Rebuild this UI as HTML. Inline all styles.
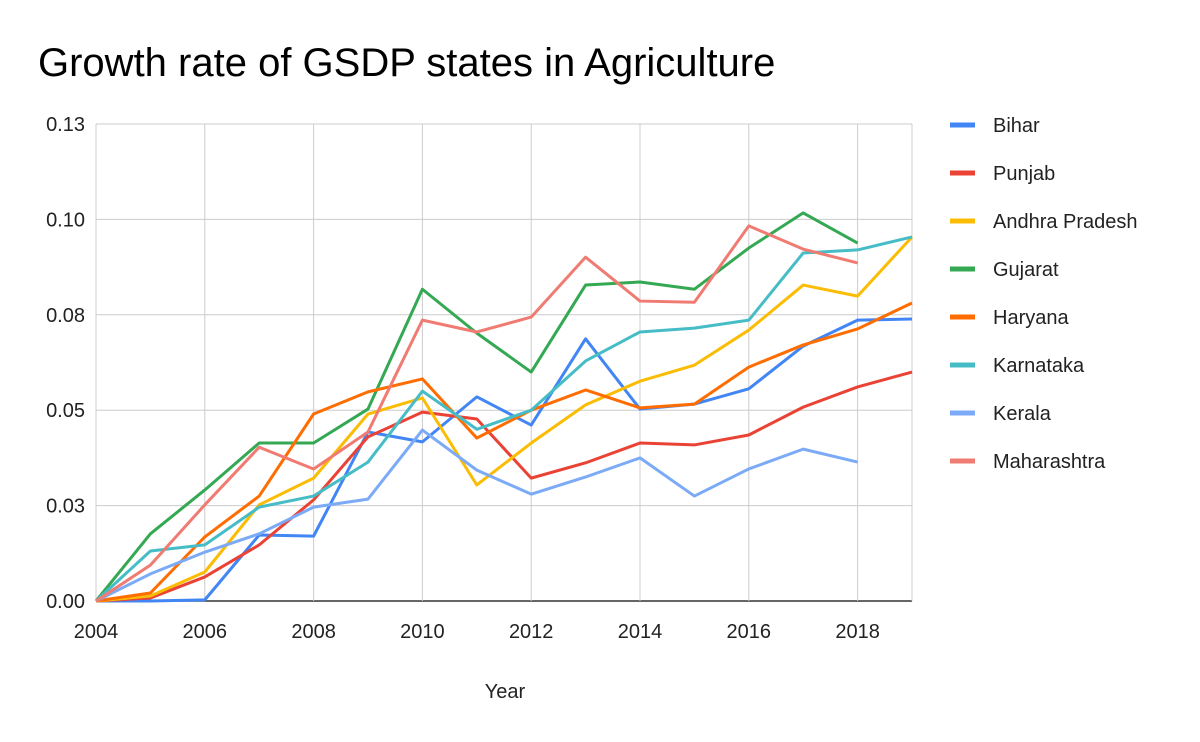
<!DOCTYPE html>
<html><head><meta charset="utf-8"><style>
body{margin:0;background:#fff;}
svg{display:block;font-family:"Liberation Sans",Arial,sans-serif;}
</style></head><body>
<svg id="chart" width="1200" height="742">
<text x="38" y="76" font-size="40" fill="#000">Growth rate of GSDP states in Agriculture</text>
<g id="grid"></g><g id="lines"></g><g id="legend"></g>
<text x="505" y="698" font-size="20" fill="#222" text-anchor="middle">Year</text>
</svg>
<script>
const years=[2004,2005,2006,2007,2008,2009,2010,2011,2012,2013,2014,2015,2016,2017,2018,2019];
const xTicks=[2004,2006,2008,2010,2012,2014,2016,2018];
const yTickVals=[0,0.025,0.05,0.075,0.1,0.125];
const yTickLabels=["0.00","0.03","0.05","0.08","0.10","0.13"];
const seriesNames=["Bihar","Punjab","Andhra Pradesh","Gujarat","Haryana","Karnataka","Kerala","Maharashtra"];
const seriesColors=["#4285f4","#ea4335","#fbbc04","#34a853","#ff6d01","#46bdc6","#7baaf7","#f07b72"];
const bihar=[0,0,0.0003,0.0173,0.017,0.0443,0.0417,0.0535,0.0461,0.0687,0.0503,0.0516,0.0556,0.0668,0.0736,0.0739];
const punjab=[0,0.0008,0.0063,0.0147,0.0265,0.043,0.0495,0.0477,0.0322,0.0362,0.0414,0.0409,0.0435,0.0508,0.0561,0.06];
const andhra=[0,0.0013,0.0076,0.0252,0.0322,0.049,0.0532,0.0304,0.0414,0.0514,0.0576,0.0618,0.071,0.0828,0.0799,0.0954];
const gujarat=[0,0.0176,0.0291,0.0414,0.0414,0.0503,0.0817,0.0702,0.06,0.0828,0.0836,0.0817,0.0925,0.1017,0.0938];
const haryana=[0,0.0021,0.0168,0.0275,0.049,0.0548,0.0582,0.0427,0.05,0.0553,0.0506,0.0516,0.0613,0.0671,0.0713,0.0781];
const karnataka=[0,0.0131,0.0147,0.0246,0.0275,0.0364,0.055,0.045,0.05,0.0629,0.0705,0.0715,0.0736,0.0912,0.092,0.0954];
const kerala=[0,0.0071,0.0128,0.0176,0.0246,0.0267,0.0448,0.0343,0.028,0.0325,0.0375,0.0275,0.0346,0.0398,0.0364];
const maharashtra=[0,0.0094,0.0252,0.0403,0.0346,0.0443,0.0736,0.0705,0.0744,0.0901,0.0786,0.0783,0.0983,0.0922,0.0886];
const seriesData=[bihar,punjab,andhra,gujarat,haryana,karnataka,kerala,maharashtra];

const NS="http://www.w3.org/2000/svg";
const X0=96,X1=912,Y0=601,Y1=124;
const xS=v=>X0+(v-2004)/(2019-2004)*(X1-X0);
const yS=v=>Y0-(v/0.125)*(Y0-Y1);
function mk(tag,attrs,parent){const e=document.createElementNS(NS,tag);for(const k in attrs)e.setAttribute(k,attrs[k]);parent.appendChild(e);return e;}
const grid=document.getElementById('grid');
yTickVals.forEach((v,i)=>{
 const l=mk('line',{x1:X0,x2:X1,y1:yS(v),y2:yS(v),stroke:i===0?'#333':'#ccc','stroke-width':i===0?1.5:1},grid);
 
 
 const t=mk('text',{x:85,y:yS(v)+7,'font-size':20,'text-anchor':'end',fill:'#222'},grid);
 t.textContent=yTickLabels[i];
 
 
});
xTicks.forEach(v=>{
 const l=mk('line',{x1:xS(v),x2:xS(v),y1:Y1,y2:Y0,stroke:'#ccc','stroke-width':1},grid);
 
 
 const t=mk('text',{x:xS(v),y:638,'font-size':20,'text-anchor':'middle',fill:'#222'},grid);
 t.textContent=v;
 
 
});
const ll=mk('line',{x1:X1,x2:X1,y1:Y1,y2:Y0,stroke:'#ccc','stroke-width':1},grid);


const lines=document.getElementById('lines'),legend=document.getElementById('legend');
seriesData.forEach((d,i)=>{
 const pts=d.map((v,j)=>xS(years[j])+','+yS(v)).join(' ');
 const p=mk('polyline',{points:pts,fill:'none',stroke:seriesColors[i],'stroke-width':3,'stroke-linejoin':'round'},lines);
 
 
 const ly=125+i*48;
 const g=mk('g',{},legend);
 
 
 mk('line',{x1:950,x2:975,y1:ly,y2:ly,stroke:seriesColors[i],'stroke-width':5},g);
 const t=mk('text',{x:993,y:ly+7,'font-size':20,fill:'#222'},g);
 t.textContent=seriesNames[i];
});
</script>
</body></html>
